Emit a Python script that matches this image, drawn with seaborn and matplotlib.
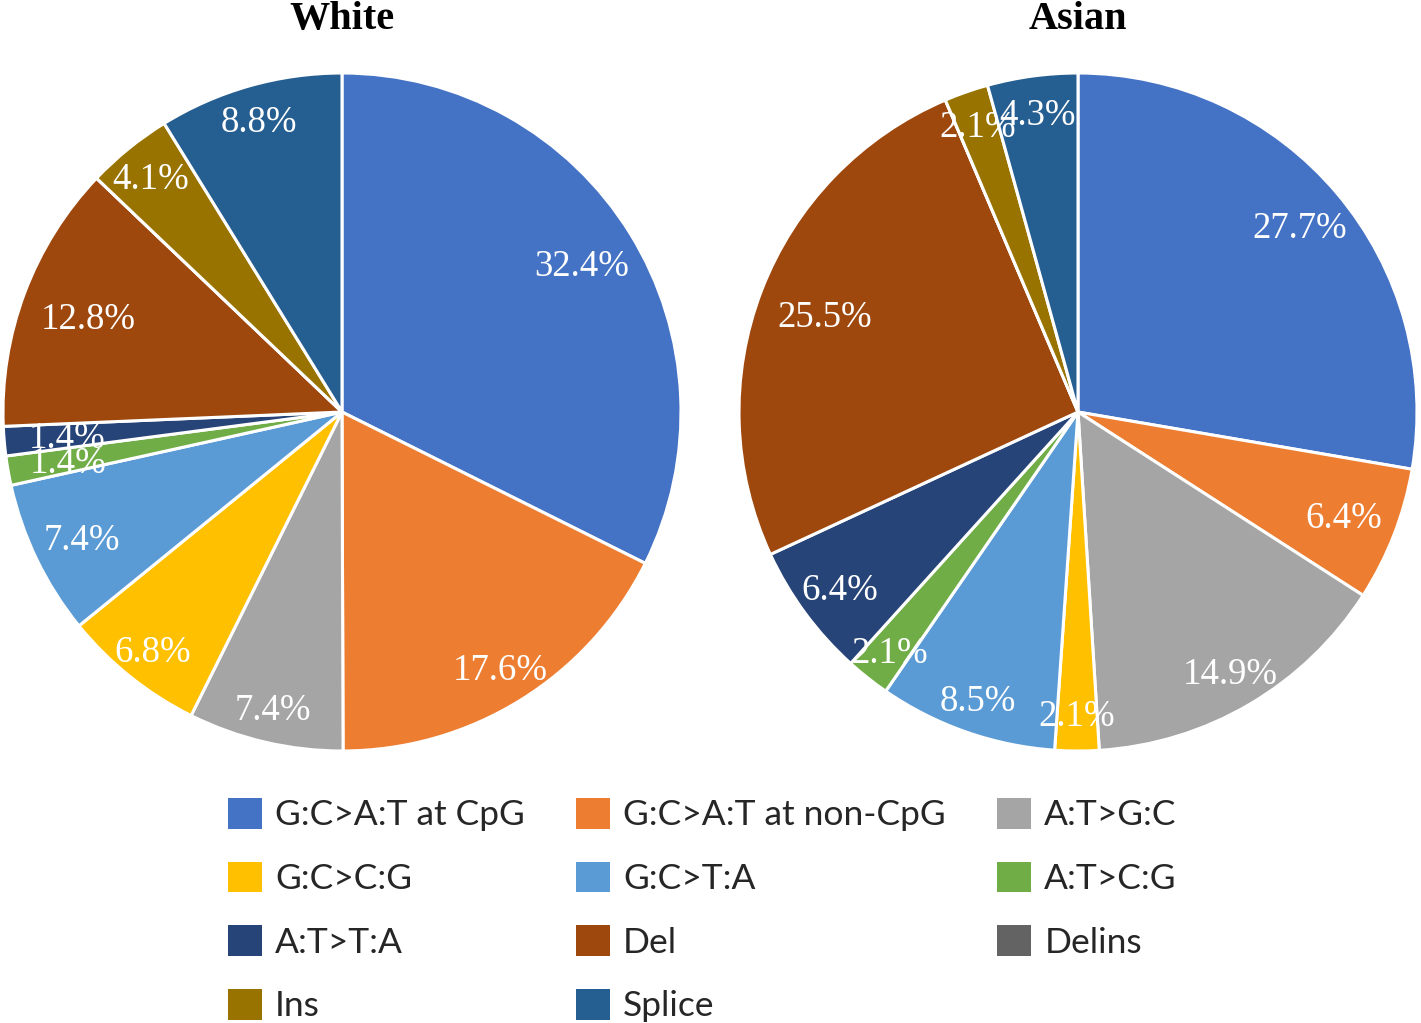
import numpy as np
import matplotlib
matplotlib.use("Agg")
import matplotlib.pyplot as plt
from matplotlib.patches import Patch
import seaborn as sns

categories = ["G:C>A:T at CpG", "G:C>A:T at non-CpG", "A:T>G:C", "G:C>C:G",
              "G:C>T:A", "A:T>C:G", "A:T>T:A", "Del", "Delins", "Ins", "Splice"]
white_pct = [32.4, 17.6, 7.4, 6.8, 7.4, 1.4, 1.4, 12.8, 0.0, 4.1, 8.8]
asian_pct = [27.7, 6.4, 14.9, 2.1, 8.5, 2.1, 6.4, 25.5, 0.0, 2.1, 4.3]
groups = ["White", "Asian"]
colors = ["#4472C4", "#ED7D31", "#A5A5A5", "#FFC000", "#5B9BD5", "#70AD47",
          "#264478", "#9E480E", "#636363", "#997300", "#255E91"]

sns.set_theme(style="white")
palette = sns.color_palette(colors)
W, H = 1421, 1023
fig = plt.figure(figsize=(W / 100, H / 100), dpi=100)

R = 339
LABEL_PT = 26.5
centers = [(342, 412), (1078, 412)]
axes = []
for (cx, cy), name, vals in zip(centers, groups, [white_pct, asian_pct]):
    ax = fig.add_axes([(cx - R) / W, (H - cy - R) / H, 2 * R / W, 2 * R / H])
    wedges, _ = ax.pie(vals, colors=palette, startangle=90, counterclock=False,
                       radius=1, wedgeprops=dict(edgecolor="white", linewidth=2.2))
    ax.set_xlim(-1, 1)
    ax.set_ylim(-1, 1)
    ax.set_aspect("equal")
    ax.axis("off")
    ax.text(0, 1.0 + 44 / R, name, ha="center", va="baseline", fontsize=29,
            fontweight="bold", family="Liberation Serif", color="black", clip_on=False)
    labels = []
    for w, v in zip(wedges, vals):
        if v <= 0:
            continue
        th = np.deg2rad((w.theta1 + w.theta2) / 2)
        t = ax.text(0, 0, f"{v:.1f}%", ha="center", va="baseline", fontsize=LABEL_PT,
                    family="Liberation Serif", color="white")
        labels.append((t, th))
    axes.append((ax, labels))

# "inside end" placement: push each label out towards the rim of its wedge
fig.canvas.draw()
rend = fig.canvas.get_renderer()
digit_half = 0.676 * LABEL_PT * 100 / 72 / 2
for ax, labels in axes:
    for t, th in labels:
        bb = t.get_window_extent(rend)
        ux, uy = np.cos(th), np.sin(th)
        gap = ux ** 2 * (1.7 * bb.width / 2 - 39) + 37 - 50 * ux ** 2 * uy ** 2
        d = (R - gap) / R
        t.set_position((d * ux, d * uy - digit_half / R))

order = [0, 3, 6, 9, 1, 4, 7, 10, 2, 5, 8]
handles = [Patch(facecolor=palette[i], edgecolor="none", label=categories[i]) for i in order]
fig.legend(handles=handles, loc="upper left", bbox_to_anchor=(196 / W, 1 - 766 / H),
           ncol=3, frameon=False, prop=dict(family="Lato", size=25.5),
           handlelength=0.96, handleheight=0.96, handletextpad=0.37,
           columnspacing=1.45, labelspacing=0.85)

fig.savefig("out.png", dpi=100)
